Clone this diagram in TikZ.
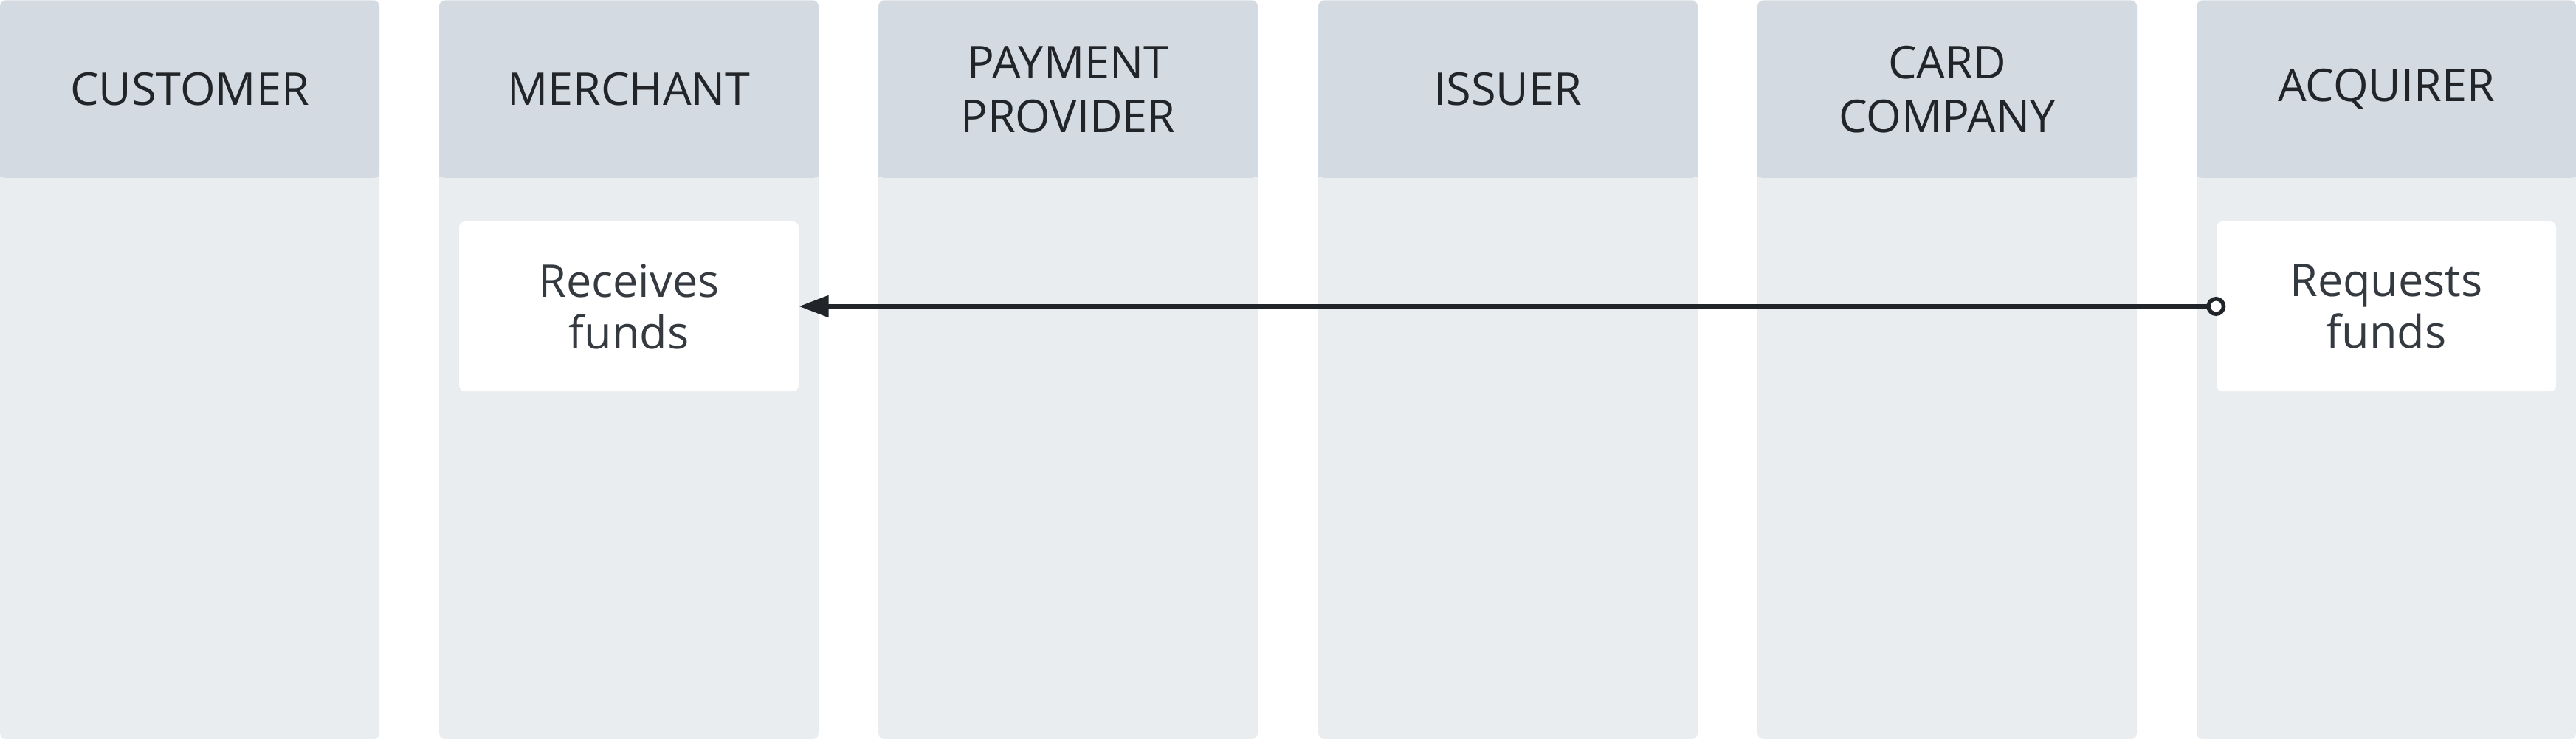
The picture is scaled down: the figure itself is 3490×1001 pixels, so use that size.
\documentclass[tikz,border=0pt]{standalone}
\usepackage{fontspec}
\setmainfont{Open Sans}
\usetikzlibrary{arrows.meta,positioning}
\definecolor{headgray}{HTML}{D3DAE1}
\definecolor{lanegray}{HTML}{E9EDF0}
\definecolor{inkdark}{HTML}{212529}
\definecolor{inktext}{HTML}{353A40}

\tikzset{
    lanehead/.style={fill=headgray, rounded corners=0.8mm, minimum width=51.4mm, minimum height=24mm,
        align=center, text=inkdark, inner sep=0pt, font=\fontsize{17.4}{20.8}\selectfont},
    stepbox/.style={fill=white, rounded corners=0.8mm, minimum width=46mm, minimum height=23mm,
        align=center, text=inktext, inner sep=0pt, font=\fontsize{17.4}{20}\selectfont},
    flow/.style={line width=0.55mm, draw=inkdark, shorten <=-1.3mm,
        {Circle[fill=white, length=2.6mm, width=2.6mm]}-{Triangle[length=4mm, width=2.9mm]}}
}

\begin{document}
\begin{tikzpicture}[x=0.1mm, y=-0.1mm]
    \useasboundingbox (0,0) rectangle (3490,1001);

    % lane bodies
    \fill[lanegray, rounded corners=0.8mm] (0,0) rectangle (514,1001);
    \fill[lanegray, rounded corners=0.8mm] (595,0) rectangle (1109,1001);
    \fill[lanegray, rounded corners=0.8mm] (1190,0) rectangle (1704,1001);
    \fill[lanegray, rounded corners=0.8mm] (1786,0) rectangle (2300,1001);
    \fill[lanegray, rounded corners=0.8mm] (2381,0) rectangle (2895,1001);
    \fill[lanegray, rounded corners=0.8mm] (2976,0) rectangle (3490,1001);

    % lane headers
    \node[lanehead] (customer) at (257,121) {CUSTOMER};
    \node[lanehead] (merchant) at (852,121) {MERCHANT};
    \node[lanehead] (provider) at (1447,121) {PAYMENT\\PROVIDER};
    \node[lanehead] (issuer) at (2043,121) {ISSUER};
    \node[lanehead] (cardco) at (2638,121) {CARD\\COMPANY};
    \node[lanehead] (acquirer) at (3233,121) {ACQUIRER};

    % square off the header bottoms
    \fill[headgray] (0,215) rectangle (514,240);
    \fill[headgray] (595,215) rectangle (1109,240);
    \fill[headgray] (1190,215) rectangle (1704,240);
    \fill[headgray] (1786,215) rectangle (2300,240);
    \fill[headgray] (2381,215) rectangle (2895,240);
    \fill[headgray] (2976,215) rectangle (3490,240);

    \node[stepbox] (receive) at (852,415) {Receives\\funds};
    \node[stepbox] (request) at (3233,415) {Requests\\funds};

    \draw[flow] (request.west) -- (receive.east);
\end{tikzpicture}
\end{document}
